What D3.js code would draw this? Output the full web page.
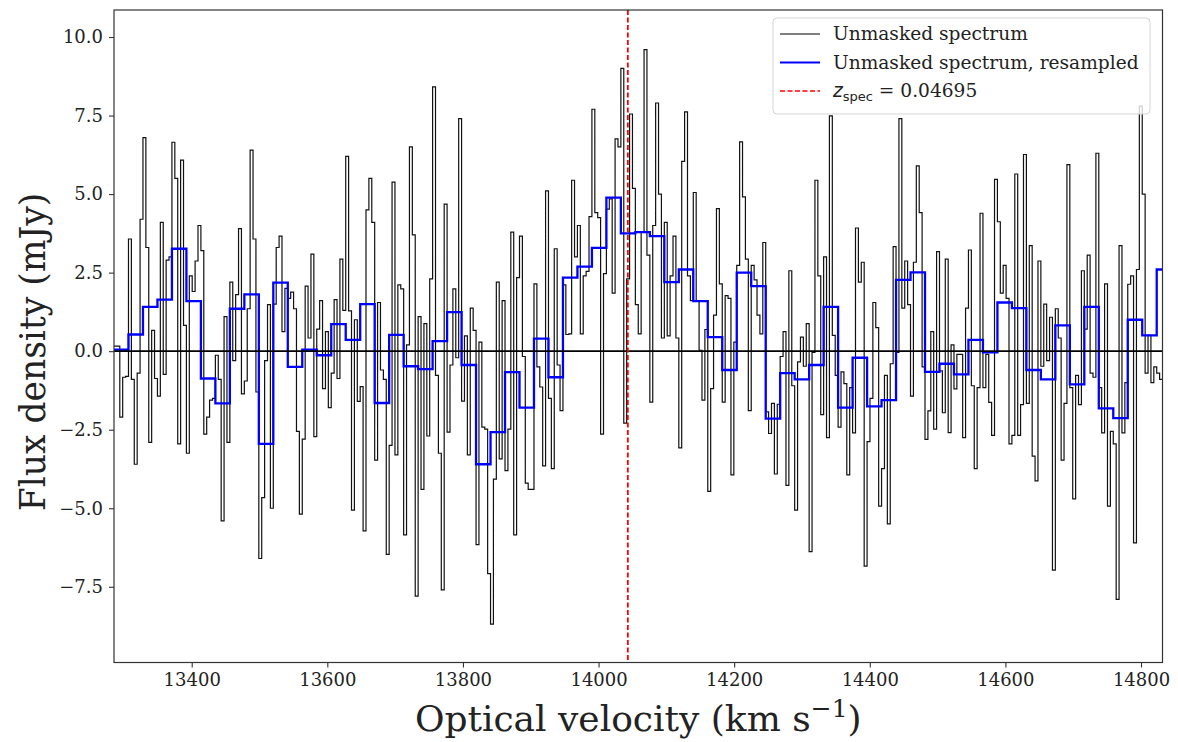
<!DOCTYPE html>
<html>
<head>
<meta charset="utf-8">
<title>Unmasked spectrum</title>
<script src="https://d3js.org/d3.v7.min.js"></script>
<style>
    body, html { margin: 0; padding: 0; background: #fff; }
    svg text { font-family: 'DejaVu Serif', serif; fill: #222; }
</style>
</head>
<body>
<script>
// channel grid of the spectrum (km/s)
const xStart = 13285.4;
const chanWidth = 4.2716;
const binSize = 5;           // channels per resampled bin
const zSpecVelocity = 14043.2;

// flux density per channel (mJy)
const flux = [
    0.16, 0.16, -2.1, -0.83, -0.8,   3.57, -0.9, -3.6, -0.7, 4.2,
    6.8, 3.3, -2.9, 0.66, -0.87,     -1.43, 4.1, -0.74, 2.9, 3.0,
    6.65, 5.5, -2.95, 6.08, 0.82,    -3.25, 2.4, 1.9, 2.87, 4.0,
    3.2, -2.64, -2.1, -1.56, -1.5,   -0.13, -0.9, -5.4, 1.1, -2.9,
    2.2, -0.3, 1.8, 3.9, -1.36,      -0.95, 1.35, 6.4, 3.57, -1.3,
    -6.6, -4.66, -0.3, 1.48, -5.0,   1.5, 3.3, 3.66, 0.62, 2.0,
    1.68, 1.88, 1.35, -2.55, -5.19,  -2.8, 2.07, 0.42, 3.09, -2.72,
    0.7, 1.61, -1.19, 0.62, -1.8,    -0.7, 1.64, -0.87, 2.93, 1.3,
    6.2, 1.28, -5.06, 1.0, -1.6,     -1.13, -5.72, 4.5, 5.5, 4.1,
    -3.47, 1.55, -0.6, -0.9, -6.47,  -3.0, 5.38, -3.3, 2.11, 1.98,
    -5.85, 0.2, 6.5, 3.7, -7.8,      1.1, -4.4, 0.88, -2.7, 2.3,
    8.41, -0.77, -3.25, -7.6, 4.68,  -2.58, -0.44, 1.98, -0.21, 7.4,
    -1.59, 0.49, -3.3, 1.37, 0.66,   -6.16, 0.29, -2.42, -2.48, -7.08,
    -8.69, -4.07, 2.2, -3.43, 1.61,  -3.8, -2.48, 3.79, -5.85, 2.34,
    3.66, -0.17, -4.2, -4.4, -4.4,   2.14, -0.5, -1.14, -3.65, 5.1,
    -1.5, -3.74, 3.26, -0.44, -1.89, 2.11, 0.53, 0.55, 5.44, 3.0,
    4.0, 0.55, 2.4, 2.54, 4.28,      7.7, 4.41, 4.25, -2.64, 2.47,
    4.52, 4.85, 1.85, 6.76, 6.5,     9.0, -2.29, 2.3, 7.55, 5.18,
    1.48, 0.55, 3.79, 9.6, 3.06,     -1.62, 4.0, 7.9, 5.0, 0.42,
    4.1, 0.49, 2.4, 3.66, 0.42,      -3.08, 6.04, 7.62, 2.4, 1.61,
    5.05, 1.61, 0.03, -1.56, 0.69,   -4.46, -1.19, 1.15, 4.54, 2.14,
    -1.62, 1.77, 1.68, -3.94, 0.29,  2.73, 6.66, 4.91, 2.93, -1.89,
    2.73, 2.27, 1.15, 0.55, 3.46,    -1.93, -2.62, -1.66, -3.91, -1.69,
    -0.17, 0.62, -4.27, 2.56, -1.1,  -5.06, -0.34, 0.45, -0.48, 0.88,
    -6.38, -0.04, 5.44, 2.4, -2.02,  3.0, -2.75, 7.49, 0.5, -0.77,
    -2.42, -0.66, -1.03, -3.94, -1.16, -2.6, 3.92, 2.2, 2.83, -6.84,
    -2.88, -1.5, 1.55, 0.75, -4.93,  -3.74, -0.77, -5.5, -0.4, 3.33,
    -0.04, 7.4, 1.37, 2.87, 1.48,    -1.43, 2.83, 5.9, 4.41, -0.5,
    -2.81, -1.9, 0.62, -2.48, 3.17,  -0.63, -1.96, 2.93, -2.59, 0.2,
    -1.2, -0.1, -0.1, -2.75, 1.37,   3.22, -1.1, -3.74, -1.16, 4.39,
    -1.16, -0.1, -1.63, -2.68, 5.47, 4.12, 1.85, 2.73, 1.68, -2.95,
    -2.68, 5.64, -2.68, -1.7, 6.26,  -1.66, 3.36, -3.34, -4.13, 2.87,
    -0.48, 1.5, -0.3, 1.08, -6.97,   1.35, 0.42, -3.47, -1.66, 5.94,
    -1.16, -4.7, -0.77, -1.7, 2.56,  0.7, 3.06, -0.7, -0.83, 6.3,
    -1.16, -2.6, 2.14, -4.93, -2.55, -2.95, -7.9, 3.36, -2.6, -1.0,
    2.13, 2.4, -6.1, 2.6, 7.8,       5.0, -0.7, 0.5, -1.0, -0.5,
    -0.7, -0.9
];

// resampled spectrum, one value per 5 channels (mJy)
const fluxResampled = [
    0.05, 0.53, 1.41, 1.64, 3.26, 1.59, -0.87, -1.66, 1.35, 1.81,
    -2.95, 2.18, -0.5, 0.05, -0.13, 0.86, 0.36, 1.5, -1.65, 0.52,
    -0.48, -0.57, 0.32, 1.24, -0.44, -3.6, -2.58, -0.67, -1.8, 0.4,
    -0.83, 2.34, 2.69, 3.29, 4.89, 3.75, 3.79, 3.66, 2.2, 2.6,
    1.59, 0.45, -0.6, 2.5, 2.07, -2.15, -0.7, -0.9, -0.44, 1.41,
    -1.8, -0.21, -1.76, -1.56, 2.27, 2.51, -0.66, -0.4, -0.74, 0.36,
    -0.04, 1.55, 1.37, -0.6, -0.9, 0.82, -1.06, 1.41, -1.82, -2.13,
    1.0, 0.5, 2.6
];

const xTicks = [13400, 13600, 13800, 14000, 14200, 14400, 14600, 14800];
const yTicks = [-7.5, -5.0, -2.5, 0.0, 2.5, 5.0, 7.5, 10.0];
const xDomain = [13285.4, 14831.7];
const yDomain = [-9.91, 10.86];

const legendItems = [
    {label: "Unmasked spectrum", color: "#000", width: 1.2, dash: null},
    {label: "Unmasked spectrum, resampled", color: "blue", width: 2.2, dash: null},
    {label: "zspec", color: "red", width: 1.6, dash: "5,2.5"}
];

const width = 1178, height = 742;
const margin = {left: 114, top: 10, right: 15.5, bottom: 79.5};
const plotW = width - margin.left - margin.right;
const plotH = height - margin.top - margin.bottom;

const x = d3.scaleLinear().domain(xDomain).range([0, plotW]);
const y = d3.scaleLinear().domain(yDomain).range([plotH, 0]);

const svg = d3.select("body").append("svg")
    .attr("width", width)
    .attr("height", height);

svg.append("defs").append("clipPath")
    .attr("id", "plot-clip")
  .append("rect")
    .attr("width", plotW)
    .attr("height", plotH);

const g = svg.append("g")
    .attr("transform", `translate(${margin.left},${margin.top})`);

// step edges for channel data
function stepPoints(values, w) {
    const pts = values.map((v, i) => [xStart + i * w, v]);
    pts.push([xStart + values.length * w, values[values.length - 1]]);
    return pts;
}

const stepLine = d3.line()
    .x(d => x(d[0]))
    .y(d => y(d[1]))
    .curve(d3.curveStepAfter);

const plot = g.append("g").attr("clip-path", "url(#plot-clip)");

plot.append("path")
    .datum(stepPoints(flux, chanWidth))
    .attr("fill", "none")
    .attr("stroke", "#111")
    .attr("stroke-width", 1.2)
    .attr("d", stepLine);

plot.append("path")
    .datum(stepPoints(fluxResampled, chanWidth * binSize))
    .attr("fill", "none")
    .attr("stroke", "blue")
    .attr("stroke-width", 2.3)
    .attr("d", stepLine);

// zero line
plot.append("line")
    .attr("x1", 0).attr("x2", plotW)
    .attr("y1", y(0)).attr("y2", y(0))
    .attr("stroke", "#000")
    .attr("stroke-width", 1.8);

// systemic velocity marker
plot.append("line")
    .attr("x1", x(zSpecVelocity)).attr("x2", x(zSpecVelocity))
    .attr("y1", 0).attr("y2", plotH)
    .attr("stroke", "red")
    .attr("stroke-width", 1.8)
    .attr("stroke-dasharray", "5,2.5");

// axes
const xAxis = g.append("g")
    .attr("transform", `translate(0,${plotH})`)
    .call(d3.axisBottom(x).tickValues(xTicks).tickSize(5).tickPadding(6).tickFormat(d3.format("d")));
const yAxis = g.append("g")
    .call(d3.axisLeft(y).tickValues(yTicks).tickSize(5).tickPadding(6).tickFormat(d => d3.format(".1f")(d).replace("-", "\u2212")));

[xAxis, yAxis].forEach(a => {
    a.select(".domain").remove();
    a.selectAll(".tick line").attr("stroke", "#333").attr("stroke-width", 1.1);
    a.selectAll(".tick text")
        .attr("font-family", "'DejaVu Serif', serif")
        .attr("font-size", 18)
        .attr("fill", "#222");
});

// frame
g.append("rect")
    .attr("width", plotW)
    .attr("height", plotH)
    .attr("fill", "none")
    .attr("stroke", "#333")
    .attr("stroke-width", 1.2);

// axis labels
svg.append("text")
    .attr("x", margin.left + plotW / 2)
    .attr("y", 731)
    .attr("text-anchor", "middle")
    .attr("font-size", 36)
    .html("Optical velocity (km s<tspan dy='-14' font-size='25'>\u22121</tspan><tspan dy='14'>)</tspan>");

svg.append("text")
    .attr("transform", `translate(45,352) rotate(-90)`)
    .attr("text-anchor", "middle")
    .attr("font-size", 34.5)
    .text("Flux density (mJy)");

// legend
const legend = svg.append("g").attr("transform", "translate(773,18)");
legend.append("rect")
    .attr("width", 377)
    .attr("height", 96)
    .attr("rx", 4)
    .attr("fill", "#fff")
    .attr("fill-opacity", 0.8)
    .attr("stroke", "#d5d5d5")
    .attr("stroke-width", 1);

legendItems.forEach((item, i) => {
    const row = legend.append("g").attr("transform", `translate(0,${16 + i * 28.5})`);
    row.append("line")
        .attr("x1", 7).attr("x2", 47)
        .attr("stroke", item.color)
        .attr("stroke-width", item.width)
        .attr("stroke-dasharray", item.dash);
    const t = row.append("text")
        .attr("x", 60)
        .attr("y", 6)
        .attr("font-size", 18.6);
    if (item.label === "zspec") {
        t.append("tspan").attr("font-style", "italic").attr("font-family", "'DejaVu Sans', sans-serif").text("z");
        t.append("tspan").attr("font-size", 13).attr("dy", 4).attr("font-family", "'DejaVu Sans', sans-serif").text("spec");
        t.append("tspan").attr("dy", -4).text(" = 0.04695");
    } else {
        t.text(item.label);
    }
});
</script>
</body>
</html>
